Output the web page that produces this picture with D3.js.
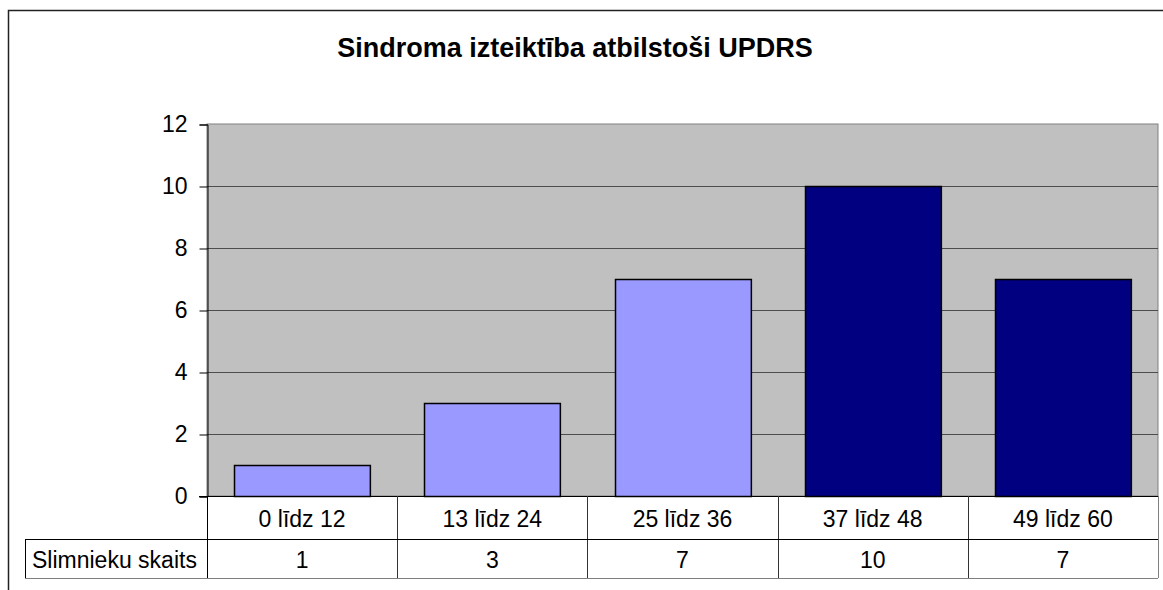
<!DOCTYPE html>
<html lang="lv">
<head>
<meta charset="UTF-8">
<title>Sindroma izteiktība atbilstoši UPDRS</title>
<script src="https://d3js.org/d3.v7.min.js"></script>
<style>
    body { margin: 0; background: #fff; }
    svg text { font-family: Arial, "Liberation Sans", sans-serif; fill: #000; }
</style>
</head>
<body>
<svg id="chart" width="1163" height="590"></svg>
<script>
    // data
    const title = 'Sindroma izteiktība atbilstoši UPDRS';
    const seriesName = 'Slimnieku skaits';
    const categories = ['0 līdz 12', '13 līdz 24', '25 līdz 36', '37 līdz 48', '49 līdz 60'];
    const values = [1, 3, 7, 10, 7];
    const yTicks = [0, 2, 4, 6, 8, 10, 12];

    const svg = d3.select('#chart');
    const plot = { left: 207, right: 1158, top: 124, bottom: 496 };
    const rowH = [43, 39];
    const tableLeft = 25;

    // outer frame (runs off the picture on right and bottom)
    svg.append('rect')
        .attr('x', 8.5).attr('y', 10.5)
        .attr('width', 1200).attr('height', 650)
        .attr('fill', 'none').attr('stroke', '#222').attr('stroke-width', 1.5);

    svg.append('text')
        .attr('x', 575).attr('y', 57)
        .attr('text-anchor', 'middle')
        .attr('font-size', 27).attr('font-weight', 'bold')
        .text(title);

    const x = d3.scaleBand()
        .domain(categories)
        .range([plot.left, plot.right])
        .paddingInner(0.4 / 1.4)
        .paddingOuter(0.2 / 1.4);

    const xCols = d3.scaleBand().domain(categories).range([plot.left, plot.right]);

    const y = d3.scaleLinear().domain([0, 12]).range([plot.bottom, plot.top]);

    const color = d3.scaleOrdinal()
        .domain(categories)
        .range(['#9999FF', '#9999FF', '#9999FF', '#000080', '#000080']);

    // plot background
    svg.append('rect')
        .attr('x', plot.left).attr('y', plot.top)
        .attr('width', plot.right - plot.left).attr('height', plot.bottom - plot.top)
        .attr('fill', '#C0C0C0')
        .attr('stroke', '#808080').attr('stroke-width', 1);

    // gridlines
    svg.append('g')
        .selectAll('line')
        .data(yTicks.filter(d => d > 0 && d < 12))
        .join('line')
        .attr('x1', plot.left).attr('x2', plot.right)
        .attr('y1', d => Math.round(y(d)) + 0.5).attr('y2', d => Math.round(y(d)) + 0.5)
        .attr('stroke', '#4d4d4d').attr('stroke-width', 1);

    // y axis
    const yAxis = svg.append('g')
        .attr('transform', `translate(${plot.left + 0.5},0.5)`)
        .call(d3.axisLeft(y).tickValues(yTicks).tickSize(8).tickPadding(12));
    yAxis.select('.domain').attr('stroke', '#000');
    yAxis.selectAll('.tick line').attr('stroke', '#000');
    yAxis.selectAll('.tick text')
        .attr('font-size', 23)
        .attr('font-family', 'Arial, "Liberation Sans", sans-serif')
        .attr('fill', '#000');

    // bars
    svg.append('g')
        .selectAll('rect')
        .data(values)
        .join('rect')
        .attr('x', (d, i) => Math.round(x(categories[i])) + 0.5)
        .attr('y', d => Math.round(y(d)) + 0.5)
        .attr('width', x.bandwidth())
        .attr('height', d => Math.round(y(0)) - Math.round(y(d)))
        .attr('fill', (d, i) => color(categories[i]))
        .attr('stroke', '#000').attr('stroke-width', 1.5);

    // baseline
    svg.append('line')
        .attr('x1', plot.left - 8).attr('x2', plot.right)
        .attr('y1', plot.bottom + 0.5).attr('y2', plot.bottom + 0.5)
        .attr('stroke', '#000');

    // data table
    const table = svg.append('g');
    const row1 = plot.bottom, row2 = plot.bottom + rowH[0], rowEnd = row2 + rowH[1];

    table.selectAll('line.col')
        .data(categories.concat(['end']))
        .join('line')
        .attr('class', 'col')
        .attr('x1', d => Math.round(d === 'end' ? plot.right : xCols(d)) + 0.5)
        .attr('x2', d => Math.round(d === 'end' ? plot.right : xCols(d)) + 0.5)
        .attr('y1', row1).attr('y2', rowEnd)
        .attr('stroke', (d, i) => i === 0 ? '#000' : (d === 'end' ? '#808080' : '#333'));

    table.append('line')
        .attr('x1', tableLeft).attr('x2', plot.right)
        .attr('y1', row2 + 0.5).attr('y2', row2 + 0.5)
        .attr('stroke', '#000');
    table.append('line')
        .attr('x1', tableLeft).attr('x2', plot.right)
        .attr('y1', rowEnd + 0.5).attr('y2', rowEnd + 0.5)
        .attr('stroke', '#808080');
    table.append('line')
        .attr('x1', tableLeft + 0.5).attr('x2', tableLeft + 0.5)
        .attr('y1', row2).attr('y2', rowEnd)
        .attr('stroke', '#000');

    table.selectAll('text.cat')
        .data(categories)
        .join('text')
        .attr('class', 'cat')
        .attr('x', d => xCols(d) + xCols.bandwidth() / 2)
        .attr('y', row1 + 31)
        .attr('text-anchor', 'middle')
        .attr('font-size', 23)
        .text(d => d);

    table.selectAll('text.val')
        .data(values)
        .join('text')
        .attr('class', 'val')
        .attr('x', (d, i) => xCols(categories[i]) + xCols.bandwidth() / 2)
        .attr('y', row2 + 29)
        .attr('text-anchor', 'middle')
        .attr('font-size', 23)
        .text(d => d);

    table.append('text')
        .attr('x', tableLeft + 7)
        .attr('y', row2 + 29)
        .attr('font-size', 23)
        .text(seriesName);
</script>
</body>
</html>
